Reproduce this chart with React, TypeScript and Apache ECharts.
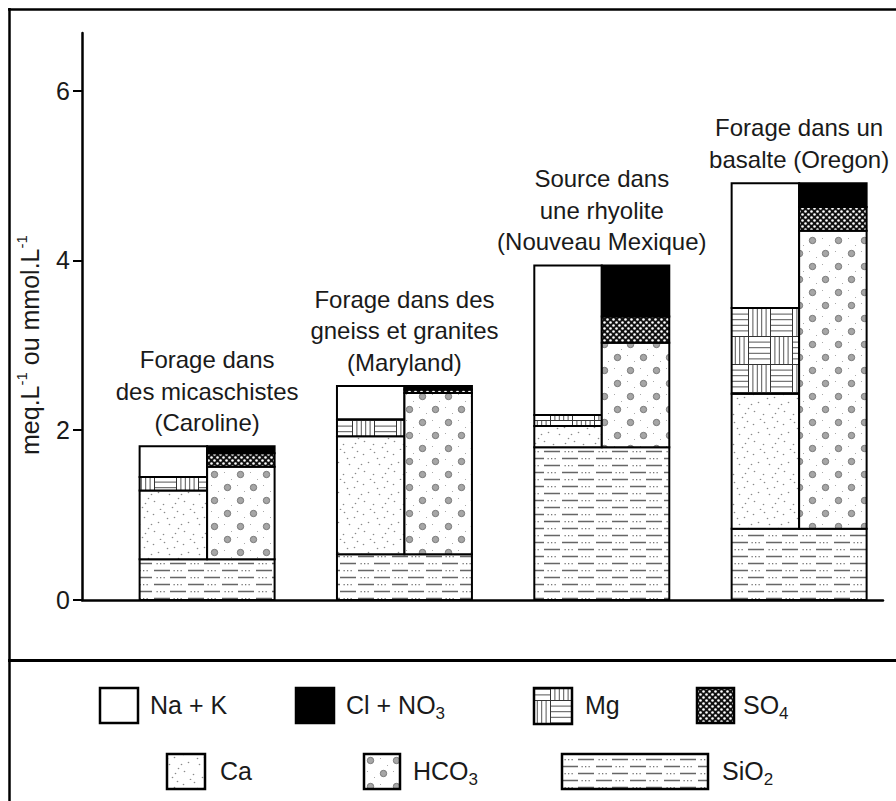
import React, { useEffect, useRef } from 'react';
import * as echarts from 'echarts';

// ---------- data ----------
const categories = ['Caroline', 'Maryland', 'Nouveau Mexique', 'Oregon'];
const groupLabels = [
  'Forage dans\ndes micaschistes\n(Caroline)',
  'Forage dans des\ngneiss et granites\n(Maryland)',
  'Source dans\nune rhyolite\n(Nouveau Mexique)',
  'Forage dans un\nbasalte (Oregon)',
];
const yTicks = [0, 2, 4, 6];
const sio2 = [0.48, 0.54, 1.8, 0.84];
const ca = [0.81, 1.39, 0.25, 1.59];
const mg = [0.16, 0.2, 0.13, 1.01];
const naK = [0.36, 0.39, 1.76, 1.47];
const hco3 = [1.09, 1.9, 1.23, 3.51];
const so4 = [0.16, 0.04, 0.31, 0.28];
const clNo3 = [0.08, 0.04, 0.6, 0.28];

const FONT = '"Liberation Sans", Arial, Helvetica, sans-serif';

function makeTile(w: number, h: number, draw: (c: CanvasRenderingContext2D) => void, bg = '#fff') {
  const cv = document.createElement('canvas');
  cv.width = w;
  cv.height = h;
  const ctx = cv.getContext('2d')!;
  ctx.fillStyle = bg;
  ctx.fillRect(0, 0, w, h);
  draw(ctx);
  return { image: cv, repeat: 'repeat' } as any;
}

function buildPatterns() {
  const caDots = [
    [3, 4], [14, 2], [24, 7], [8, 12], [19, 14], [28, 18], [4, 21], [13, 24], [22, 27], [27, 1], [10, 29], [17, 8], [1, 14], [25, 23],
  ];
  const caP = makeTile(30, 30, (c) => {
    c.fillStyle = '#8a8a8a';
    caDots.forEach(([x, y]) => {
      c.beginPath();
      c.arc(x + 0.5, y + 0.5, 0.8, 0, Math.PI * 2);
      c.fill();
    });
  });
  const hcoP = makeTile(26, 26, (c) => {
    const circ = (x: number, y: number) => {
      c.beginPath();
      c.arc(x, y, 3.2, 0, Math.PI * 2);
      c.fillStyle = '#a6a6a6';
      c.fill();
      c.lineWidth = 1;
      c.strokeStyle = '#7a7a7a';
      c.stroke();
    };
    circ(6.5, 6.5);
    circ(19.5, 19.5);
    c.fillStyle = '#aaa';
    [[16, 4], [3, 17], [23, 11], [10, 23]].forEach(([x, y]) => c.fillRect(x, y, 1, 1));
  });
  const mgP = makeTile(44, 56, (c) => {
    c.strokeStyle = '#555';
    c.lineWidth = 1;
    const hor = (x0: number, y0: number) => {
      for (let k = 1; k < 5; k++) {
        c.beginPath();
        c.moveTo(x0, y0 + k * 5.6 + 0.5);
        c.lineTo(x0 + 22, y0 + k * 5.6 + 0.5);
        c.stroke();
      }
    };
    const ver = (x0: number, y0: number) => {
      for (let k = 1; k < 5; k++) {
        c.beginPath();
        c.moveTo(x0 + k * 4.4 + 0.5, y0);
        c.lineTo(x0 + k * 4.4 + 0.5, y0 + 28);
        c.stroke();
      }
    };
    hor(0, 0);
    ver(22, 0);
    ver(0, 28);
    hor(22, 28);
    c.strokeStyle = '#333';
    c.beginPath();
    c.moveTo(0, 0.5); c.lineTo(44, 0.5);
    c.moveTo(0, 28.5); c.lineTo(44, 28.5);
    c.moveTo(0.5, 0); c.lineTo(0.5, 56);
    c.moveTo(22.5, 0); c.lineTo(22.5, 56);
    c.stroke();
  });
  const so4P = makeTile(6, 6, (c) => {
    c.fillStyle = '#fff';
    [[1.5, 1.5], [4.5, 4.5]].forEach(([x, y]) => {
      c.beginPath();
      c.arc(x, y, 1.3, 0, Math.PI * 2);
      c.fill();
    });
  }, '#111');
  const sioP = makeTile(34, 14, (c) => {
    c.strokeStyle = '#666';
    c.lineWidth = 1.6;
    c.beginPath();
    c.moveTo(0, 3.5); c.lineTo(16, 3.5);
    c.moveTo(18, 10.5); c.lineTo(34, 10.5);
    c.stroke();
    c.fillStyle = '#777';
    [20.5, 24, 27.5].forEach((x) => c.fillRect(x, 3, 1.3, 1.3));
    [3.5, 7, 10.5].forEach((x) => c.fillRect(x, 10, 1.3, 1.3));
  });
  return {
    naK: '#ffffff',
    cl: '#000000',
    mg: mgP,
    so4: so4P,
    ca: caP,
    hco3: hcoP,
    sio2: sioP,
  } as Record<string, any>;
}

export default function App() {
  const ref = useRef<HTMLDivElement>(null);

  useEffect(() => {
    if (!ref.current) return;
    const chart = echarts.init(ref.current, undefined, { renderer: 'svg' });
    const P = buildPatterns();

    const measure = document.createElement('canvas').getContext('2d')!;
    const tw = (s: string, size: number) => {
      measure.font = `${size}px "Liberation Sans"`;
      return measure.measureText(s).width;
    };

    const halfW = 0.342;
    type Comp = { name: string; values: number[]; side: 'left' | 'right' | 'both'; fill: any };
    const comps: Comp[] = [
      { name: 'SiO2', values: sio2, side: 'both', fill: P.sio2 },
      { name: 'Ca', values: ca, side: 'left', fill: P.ca },
      { name: 'Mg', values: mg, side: 'left', fill: P.mg },
      { name: 'Na + K', values: naK, side: 'left', fill: P.naK },
      { name: 'HCO3', values: hco3, side: 'right', fill: P.hco3 },
      { name: 'SO4', values: so4, side: 'right', fill: P.so4 },
      { name: 'Cl + NO3', values: clNo3, side: 'right', fill: P.cl },
    ];
    const leftTop = categories.map(() => 0);
    const rightTop = categories.map(() => 0);
    const series: any[] = comps.map((cp) => {
      const data = categories.map((_, i) => {
        let base: number;
        if (cp.side === 'both') {
          base = 0;
          leftTop[i] = rightTop[i] = cp.values[i];
        } else if (cp.side === 'left') {
          base = leftTop[i];
          leftTop[i] += cp.values[i];
        } else {
          base = rightTop[i];
          rightTop[i] += cp.values[i];
        }
        return [i, base, base + cp.values[i]];
      });
      return {
        type: 'custom',
        name: cp.name,
        data,
        encode: { x: 0, y: [1, 2] },
        renderItem: (_p: any, api: any) => {
          const i = api.value(0);
          const y0 = api.value(1);
          const y1 = api.value(2);
          const xa = cp.side === 'right' ? i : i - halfW;
          const xb = cp.side === 'left' ? i : i + halfW;
          const pA = api.coord([xa, y0]);
          const pB = api.coord([xb, y1]);
          return {
            type: 'rect',
            shape: { x: pA[0], y: pB[1], width: pB[0] - pA[0], height: pA[1] - pB[1] },
            style: { fill: cp.fill, stroke: '#000', lineWidth: 2 },
          };
        },
      };
    });
    const tops = categories.map((_, i) => Math.max(leftTop[i], rightTop[i]));
    series.push({
      type: 'custom',
      name: 'labels',
      data: categories.map((_, i) => [i, tops[i]]),
      encode: { x: 0, y: 1 },
      renderItem: (_p: any, api: any) => {
        const i = api.value(0);
        const p = api.coord([i, api.value(1)]);
        return {
          type: 'text',
          x: p[0],
          y: p[1] - 8,
          style: {
            text: groupLabels[i],
            align: 'center',
            verticalAlign: 'bottom',
            fontSize: 24,
            fontFamily: FONT,
            lineHeight: 31.5,
            fill: '#1a1a1a',
          },
        };
      },
    });

    // ---------- graphic: frame, legend, y title ----------
    const LF = 25;
    const txt = (x: number, y: number, s: string, size = LF, extra: any = {}) => ({
      type: 'text',
      x,
      y,
      style: { text: s, fontSize: size, fontFamily: FONT, fill: '#1a1a1a', align: 'left', verticalAlign: 'middle', ...extra },
    });
    const withSub = (x: number, y: number, main: string, sub: string) => [
      txt(x, y, main),
      txt(x + tw(main, LF), y + 8, sub, 17),
    ];
    const box = (x: number, y: number, w: number, h: number, fill: any) => ({
      type: 'rect',
      shape: { x, y, width: w, height: h },
      style: { fill, stroke: '#000', lineWidth: 2.5 },
    });
    const r1 = 705;
    const r2 = 771;
    const legend: any[] = [
      box(100, 688, 38, 35, P.naK), txt(150, r1, 'Na + K'),
      box(296, 688, 38, 35, P.cl), ...withSub(346, r1, 'Cl + NO', '3'),
      box(534, 688, 38, 36, P.mg), txt(585, r1, 'Mg'),
      box(697, 688, 37, 35, P.so4), ...withSub(743, r1, 'SO', '4'),
      box(167, 754, 38, 35, P.ca), txt(220, r2, 'Ca'),
      box(364, 754, 36, 35, P.hco3), ...withSub(413, r2, 'HCO', '3'),
      box(562, 754, 146, 35, P.sio2), ...withSub(722, r2, 'SiO', '2'),
    ];
    const TF = 25;
    const w1 = tw('meq.L', TF);
    const ws = tw('-1', 15);
    const w2 = tw(' ou mmol.L', TF);
    const yTitle = {
      type: 'group',
      x: 30,
      y: 455,
      rotation: Math.PI / 2,
      children: [
        txt(0, 0, 'meq.L', TF),
        txt(w1, -9, '-1', 15),
        txt(w1 + ws, 0, ' ou mmol.L', TF),
        txt(w1 + ws + w2, -9, '-1', 15),
      ],
    };

    const option: any = {
      animation: false,
      backgroundColor: '#fff',
      grid: { left: 82, right: 13, top: 33, bottom: 201, containLabel: false },
      xAxis: {
        type: 'value',
        min: -0.634,
        max: 3.425,
        axisLine: { show: true, onZero: false, lineStyle: { color: '#000', width: 2.5 } },
        axisTick: { show: false },
        axisLabel: { show: false },
        splitLine: { show: false },
      },
      yAxis: {
        type: 'value',
        min: 0,
        max: 6.68,
        interval: 2,
        axisLine: { show: true, onZero: false, lineStyle: { color: '#000', width: 2.5 } },
        axisTick: { show: true, inside: false, length: 9, customValues: yTicks, lineStyle: { color: '#000', width: 2 } },
        axisLabel: { customValues: yTicks, fontSize: 25, color: '#1a1a1a', fontFamily: FONT, margin: 12 },
        splitLine: { show: false },
      },
      series,
      graphic: [
        { type: 'line', shape: { x1: 8, y1: 9.5, x2: 896, y2: 9.5 }, style: { stroke: '#000', lineWidth: 2.5 } },
        { type: 'line', shape: { x1: 9.5, y1: 8, x2: 9.5, y2: 801 }, style: { stroke: '#000', lineWidth: 2.5 } },
        { type: 'line', shape: { x1: 8, y1: 660.5, x2: 896, y2: 660.5 }, style: { stroke: '#000', lineWidth: 3 } },
        yTitle,
        ...legend,
      ],
    };
    chart.setOption(option);
    return () => chart.dispose();
  }, []);

  return (
    <div
      ref={ref}
      style={{ position: 'fixed', left: 0, top: 0, width: 896, height: 801, background: '#fff' }}
    />
  );
}
